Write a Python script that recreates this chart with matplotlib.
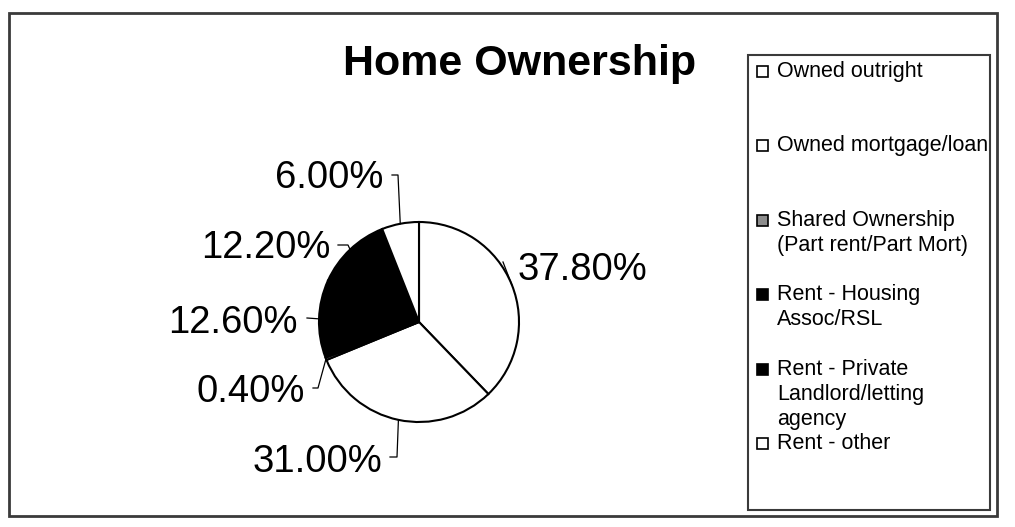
import matplotlib
matplotlib.use("Agg")
import matplotlib.pyplot as plt
from matplotlib.patches import Rectangle
import numpy as np

plt.rcParams['font.family'] = ['Liberation Sans', 'DejaVu Sans']

# Data
categories = ["Owned outright", "Owned mortgage/loan",
              "Shared Ownership\n(Part rent/Part Mort)",
              "Rent - Housing\nAssoc/RSL",
              "Rent - Private\nLandlord/letting\nagency",
              "Rent - other"]
shares = [37.8, 31.0, 0.4, 12.6, 12.2, 6.0]
slice_colors = ["white", "white", "#8c8c8c", "black", "black", "white"]

# label positions relative to pie (radius units) and leader elbows
label_pos = [(0.99, 0.52), (-0.37, -1.40), (-1.14, -0.70),
             (-1.21, -0.01), (-0.89, 0.74), (-0.36, 1.44)]
label_ha = ["left", "right", "right", "right", "right", "right"]
leader_pts = [[(0.84, 0.60)],
              [(-0.29, -1.35), (-0.22, -1.35)],
              [(-1.06, -0.66), (-1.01, -0.66)],
              [(-1.12, 0.04)],
              [(-0.81, 0.77), (-0.71, 0.77)],
              [(-0.27, 1.47), (-0.21, 1.47)]]

W, H = 1015, 527
fig = plt.figure(figsize=(W / 100, H / 100), dpi=100)

# overlay in pixel coords for frame, title and legend
bg = fig.add_axes([0, 0, 1, 1])
bg.set_xlim(0, W)
bg.set_ylim(H, 0)
bg.axis("off")
bg.add_patch(Rectangle((9, 13), 988, 503, fill=False, edgecolor="#3a3a3a", lw=2))
bg.add_patch(Rectangle((748, 55), 242, 455, fill=False, edgecolor="#3a3a3a", lw=1.5))
bg.text(520, 75, "Home Ownership", fontsize=31, fontweight="bold",
        ha="center", va="baseline")

# legend
for i, (cat, col) in enumerate(zip(categories, slice_colors)):
    base = 77 + 74.4 * i
    bg.add_patch(Rectangle((757, base - 11), 11, 11, facecolor=col,
                           edgecolor="black", lw=1.2))
    for k, line in enumerate(cat.split("\n")):
        bg.text(777, base + 25 * k, line, fontsize=15.5, ha="left", va="baseline")

# pie
cx, cy, r = 419, 322, 100
ax = fig.add_axes([(cx - r) / W, (H - cy - r) / H, 2 * r / W, 2 * r / H])
wedges, _ = ax.pie(shares, startangle=90, counterclock=False,
                   colors=slice_colors,
                   wedgeprops=dict(edgecolor="black", linewidth=1.5))
ax.set_xlim(-1, 1)
ax.set_ylim(-1, 1)

for w, v, pos, ha, pts in zip(wedges, shares, label_pos, label_ha, leader_pts):
    ang = np.deg2rad((w.theta1 + w.theta2) / 2)
    edge = (np.cos(ang), np.sin(ang))
    xs = [p[0] for p in pts] + [edge[0]]
    ys = [p[1] for p in pts] + [edge[1]]
    ax.plot(xs, ys, color="black", lw=0.9, clip_on=False)
    ax.text(pos[0], pos[1], f"{v:.2f}%", fontsize=27.5, ha=ha, va="center",
            clip_on=False)

fig.savefig("out.png", dpi=100)
